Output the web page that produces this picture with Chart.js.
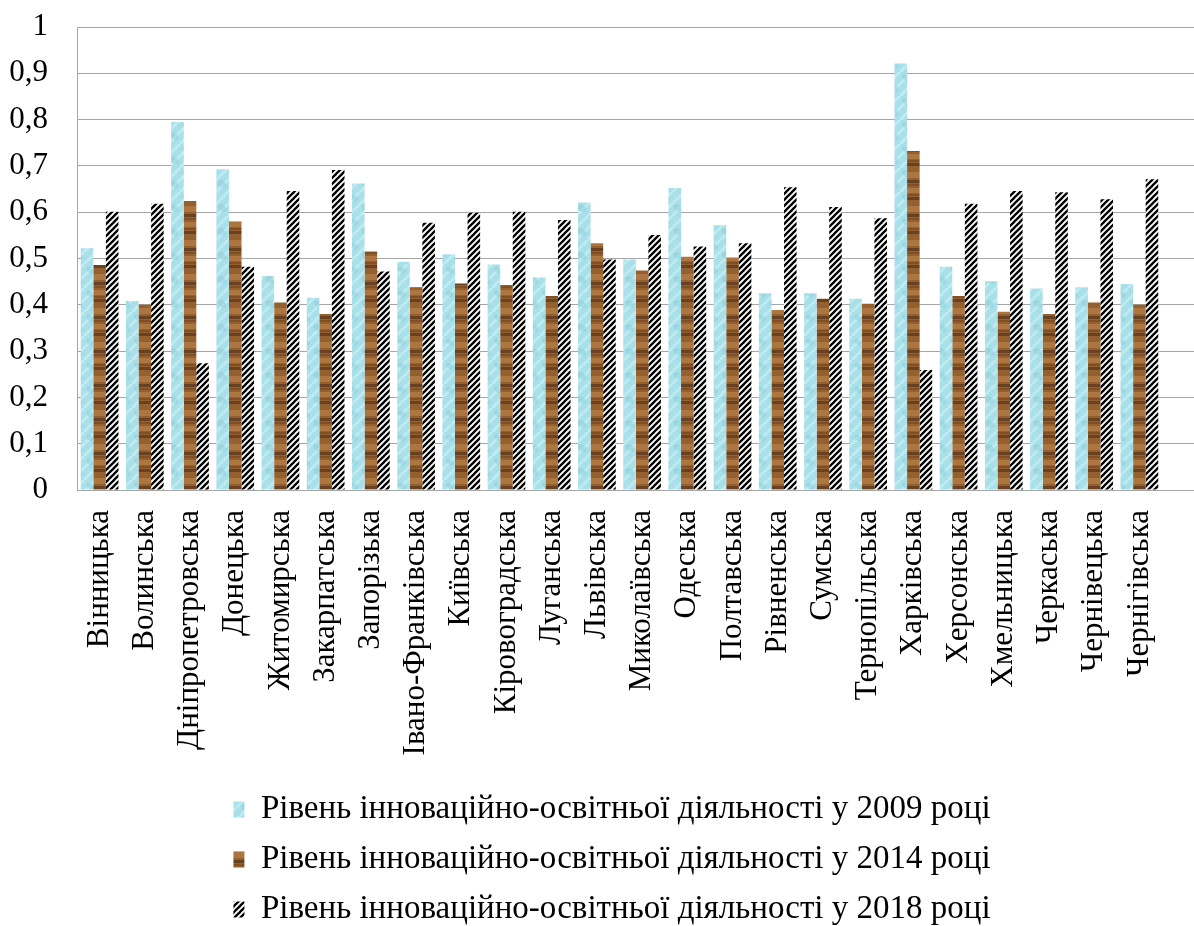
<!DOCTYPE html>
<html><head><meta charset="utf-8">
<script src="https://cdn.jsdelivr.net/npm/chart.js@4.4.0/dist/chart.umd.min.js"></script>
<style>html,body{margin:0;padding:0;background:#fff;} #wrap{width:1194px;height:926px;}</style>
</head><body><div id="wrap"><canvas id="c" width="1194" height="926"></canvas></div>
<script>
const categories = ['Вінницька','Волинська','Дніпропетровська','Донецька','Житомирська','Закарпатська','Запорізька','Івано-Франківська','Київська','Кіровоградська','Луганська','Львівська','Миколаївська','Одеська','Полтавська','Рівненська','Сумська','Тернопільська','Харківська','Херсонська','Хмельницька','Черкаська','Чернівецька','Чернігівська'];
const values2009 = [0.522,0.408,0.795,0.693,0.462,0.415,0.662,0.493,0.509,0.487,0.459,0.621,0.498,0.652,0.572,0.425,0.425,0.413,0.921,0.482,0.451,0.435,0.438,0.445];
const values2014 = [0.486,0.400,0.624,0.580,0.405,0.380,0.515,0.438,0.446,0.443,0.419,0.533,0.474,0.504,0.502,0.389,0.413,0.402,0.732,0.419,0.385,0.380,0.405,0.400];
const values2018 = [0.601,0.618,0.274,0.482,0.646,0.691,0.472,0.577,0.599,0.601,0.583,0.498,0.551,0.526,0.533,0.654,0.611,0.587,0.259,0.618,0.646,0.643,0.628,0.671];
const seriesNames = ['Рівень інноваційно-освітньої діяльності у 2009 році','Рівень інноваційно-освітньої діяльності у 2014 році','Рівень інноваційно-освітньої діяльності у 2018 році'];
const yTickLabels = ['0','0,1','0,2','0,3','0,4','0,5','0,6','0,7','0,8','0,9','1'];

const FONT = "'Liberation Serif','Times New Roman',serif";

function makePattern(w, h, draw) {
  const c = document.createElement('canvas');
  c.width = w; c.height = h;
  const g = c.getContext('2d');
  draw(g, w, h);
  return g.createPattern(c, 'repeat');
}
const bluePattern = makePattern(24, 24, (g, w, h) => {
  g.fillStyle = '#a9dfe8'; g.fillRect(0, 0, w, h);
  g.strokeStyle = 'rgba(200,240,246,0.7)'; g.lineWidth = 3;
  for (let i = -h; i < w + h; i += 12) { g.beginPath(); g.moveTo(i, h); g.lineTo(i + h, 0); g.stroke(); }
  g.fillStyle = 'rgba(130,200,212,0.4)';
  g.beginPath(); g.ellipse(6, 16, 5, 3, 0.6, 0, Math.PI * 2); g.fill();
  g.beginPath(); g.ellipse(18, 6, 4, 2.5, 0.6, 0, Math.PI * 2); g.fill();
});
const brownPattern = makePattern(12, 34, (g, w, h) => {
  g.fillStyle = '#94602f'; g.fillRect(0, 0, w, h);
  g.fillStyle = '#ad7640'; g.fillRect(0, 2, w, 6); g.fillRect(0, 18, w, 5);
  g.fillStyle = '#6a4120'; g.fillRect(0, 10, w, 3); g.fillRect(0, 27, w, 3);
  g.fillStyle = '#804f26'; g.fillRect(0, 14, w, 2); g.fillRect(0, 24, w, 2);
});
const hatchPattern = makePattern(6, 6, (g, w, h) => {
  g.fillStyle = '#ffffff'; g.fillRect(0, 0, w, h);
  g.strokeStyle = '#000000'; g.lineWidth = 2.3; g.lineCap = 'square';
  for (let k = -1; k <= 1; k++) {
    g.beginPath(); g.moveTo(k * w - 1, h + 1); g.lineTo(k * w + w + 1, -1); g.stroke();
  }
});

const extendGrid = {
  id: 'extendGrid',
  afterLayout(chart) {
    const lg = chart.legend;
    if (lg) { lg.left += 31; lg.right += 31; }
  },
  beforeDatasetsDraw(chart) {
    const ys = chart.scales.y, ca = chart.chartArea, c = chart.ctx;
    c.save(); c.strokeStyle = '#a6a6a6'; c.lineWidth = 1;
    ys.ticks.forEach((t, i) => {
      const y = Math.round(ys.getPixelForTick(i) - 0.5) + 0.5;
      c.beginPath(); c.moveTo(ca.right, y); c.lineTo(chart.width, y); c.stroke();
    });
    c.restore();
  }
};

new Chart(document.getElementById('c'), {
  type: 'bar',
  data: {
    labels: categories,
    datasets: [
      { label: seriesNames[0], data: values2009, backgroundColor: bluePattern, borderWidth: 0 },
      { label: seriesNames[1], data: values2014, backgroundColor: brownPattern, borderWidth: 0 },
      { label: seriesNames[2], data: values2018, backgroundColor: hatchPattern, borderWidth: 0 }
    ]
  },
  options: {
    responsive: false,
    animation: false,
    datasets: { bar: { barPercentage: 1, categoryPercentage: 0.834 } },
    layout: { padding: { top: 27, right: 32, left: 0, bottom: -10 } },
    plugins: {
      tooltip: { enabled: false },
      legend: {
        position: 'bottom',
        labels: { font: { family: FONT, size: 33 }, color: '#000', boxWidth: 11, boxHeight: 16, padding: 17 }
      }
    },
    scales: {
      x: {
        grid: { display: false },
        border: { display: true, color: '#a6a6a6', width: 1 },
        ticks: { color: '#000', font: { family: FONT, size: 31 }, maxRotation: 90, minRotation: 90, padding: 12, autoSkip: false },
        afterFit: (s) => { s.height = 286; }
      },
      y: {
        min: 0, max: 1,
        grid: { color: '#a6a6a6', drawTicks: false },
        border: { display: true, color: '#a6a6a6', width: 1 },
        ticks: { stepSize: 0.1, color: '#000', font: { family: FONT, size: 31 }, padding: 29,
          callback: (v, i) => yTickLabels[i] },
        afterFit: (s) => { s.width = 77; s.paddingTop = 0; }
      }
    }
  },
  plugins: [extendGrid]
});
</script></body></html>
